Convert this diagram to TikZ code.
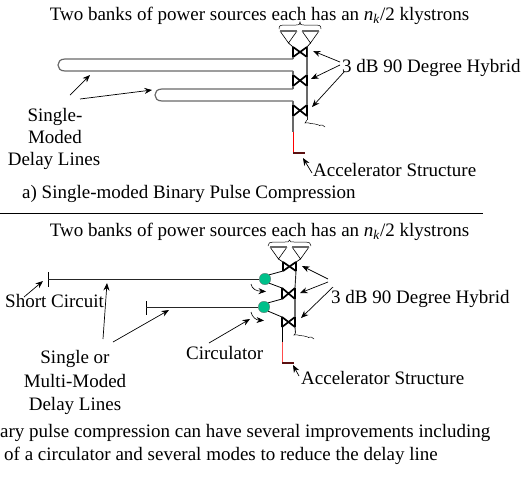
\documentclass[tikz,border=0pt]{standalone}
\usepackage{fontspec}
\setmainfont{Liberation Serif}
\usetikzlibrary{arrows.meta}
\definecolor{circgreen}{HTML}{00C08A}
\definecolor{darkred}{HTML}{5A1010}
\definecolor{wgrey}{HTML}{686868}
\tikzset{
 txt/.style={inner sep=0pt,anchor=base,font=\fontsize{19}{22}\selectfont},
 txtl/.style={txt,anchor=base west},
 lead/.style={draw=black,line width=0.7pt,-{Stealth[length=7.5pt,width=6pt]}},
 wg/.style={draw=wgrey,line width=1.2pt},
 thin wg/.style={draw=black!85,line width=0.9pt},
 hyb/.style={draw=black,line width=1.7pt},
 struct/.style={draw=red,line width=1pt},
 endcap/.style={draw=darkred,line width=1.5pt},
 tri/.style={draw=black,line width=0.6pt},
 tritop/.style={draw=wgrey,line width=1.4pt},
 circ/.style={circle,fill=circgreen,draw=black!60,line width=0.3pt,minimum size=11.5pt,inner sep=0pt},
 brace/.style={draw=black,line width=0.5pt},
 wiggle/.style={draw=black,line width=0.5pt}
}
\newcommand{\hybrid}[5]{% name, xl, xr, ytop, ybot
 \coordinate (#1tl) at (#2,#4);\coordinate (#1tr) at (#3,#4);
 \coordinate (#1bl) at (#2,#5);\coordinate (#1br) at (#3,#5);
 \draw[hyb] (#1tl)--(#1bl) (#1tr)--(#1br) (#1tl)--(#1br) (#1bl)--(#1tr);
}
\newcommand{\klystron}[5]{% name, xl, xr, ytop, yapex
 \coordinate (#1a) at (#2,#4);\coordinate (#1b) at (#3,#4);
 \coordinate (#1c) at ({(#2+#3)/2},#5);
 \draw[tri] (#1a)--(#1c)--(#1b);
 \draw[tritop] (#1a)--(#1b);
}
\begin{document}
\begin{tikzpicture}[x=1pt,y=-1pt]
\useasboundingbox (0,0) rectangle (521,491);
\clip (0,0) rectangle (521,491);
%% ---------- top panel
\node[txt] (head1) at (259.5,20) {Two banks of power sources each has an \textit{n}\textsubscript{\textit{k}}/2 klystrons};
\node[txtl] (hyb1) at (342,72) {3 dB 90 Degree Hybrid};
\node[txtl] (acc1) at (313,176) {Accelerator Structure};
\node[txtl] (cap1) at (22,198) {a) Single-moded Binary Pulse Compression};
\node[txt] (sm1) at (55,121) {Single-};
\node[txt] (sm2) at (55,143) {Moded};
\node[txt] (sm3) at (54,165) {Delay Lines};
\coordinate (ruleL) at (0,213.5);\coordinate (ruleR) at (483,213.5);
\draw[line width=0.7pt] (ruleL)--(ruleR);
% brace
\draw[brace] (279,29) .. controls (279,25) and (281,25) .. (284,25) -- (296,25) .. controls (299,25) and (300,25) .. (300,22) .. controls (300,25) and (301,25) .. (304,25) -- (316,25) .. controls (319,25) and (321,25) .. (321,29);
\klystron{ka}{280}{297}{31}{43}
\klystron{kb}{302}{319}{31}{43}
\hybrid{ha}{293}{307}{47}{57}
\hybrid{hb}{293}{307}{75}{86}
\hybrid{hc}{293}{307}{105}{116}
\draw[line width=0.7pt] (kac)--(hatl) (kbc)--(hatr);
% delay lines
\coordinate (d1a) at (293,59);\coordinate (d1b) at (293,71);
\coordinate (d2a) at (293,89);\coordinate (d2b) at (293,101);
\draw[wg] (d1a) -- (65,59) .. controls (60,59) and (58,62) .. (58,65) .. controls (58,68) and (60,71) .. (65,71) -- (d1b);
\draw[wg] (d2a) -- (162,89) .. controls (157,89) and (155,92) .. (155,95) .. controls (155,98) and (157,101) .. (162,101) -- (d2b);
\draw[wg] (d1a)--(habl) (d1b)--(hbtl) (d2a)--(hbbl) (d2b)--(hctl);
\draw[thin wg] (hatr)--(habr);
\coordinate (r1end) at (307,120);
\draw[wg] (habr)--(hbtr) (hbbr)--(hctr);
\draw[thin wg] (hcbr)--(r1end);
\draw[wiggle] (r1end) -- (305,123) .. controls (310,122) and (312,125) .. (315,124) .. controls (318,123) and (319,127) .. (321,125) .. controls (322,124) and (323,126) .. (325,127);
% output
\coordinate (o1a) at (293,132);\coordinate (o1b) at (293,153);\coordinate (o1c) at (305,153);
\draw[wg] (hcbl)--(o1a);
\draw[struct] (o1a)--(o1b);
\draw[endcap] (o1b)--(o1c);
% leaders
\coordinate (l1) at (340,62);\coordinate (l1t) at (313,51);
\coordinate (l2) at (340,65);\coordinate (l2t) at (311,79);
\coordinate (l3) at (344,72);\coordinate (l3t) at (312,107);
\draw[lead] (l1)--(l1t);\draw[lead] (l2)--(l2t);\draw[lead] (l3)--(l3t);
\coordinate (l4) at (312,173);\coordinate (l4t) at (303,158);
\draw[lead] (l4)--(l4t);
\coordinate (l5) at (70,95);\coordinate (l5t) at (90,75);
\coordinate (l6) at (80,99);\coordinate (l6t) at (152,90);
\draw[lead] (l5)--(l5t);\draw[lead] (l6)--(l6t);
%% ---------- bottom panel
\node[txt] (head2) at (259.5,236) {Two banks of power sources each has an \textit{n}\textsubscript{\textit{k}}/2 klystrons};
\node[txtl] (hyb2) at (331,303) {3 dB 90 Degree Hybrid};
\node[txtl] (acc2) at (301,384) {Accelerator Structure};
\node[txtl] (short) at (5,307) {Short Circuit};
\node[txt] (so1) at (75,363) {Single or};
\node[txt] (so2) at (75,387) {Multi-Moded};
\node[txt] (so3) at (75,410) {Delay Lines};
\node[txtl] (circl) at (186,359) {Circulator};
\node[txtl] (cap2a) at (0,437) {ary pulse compression can have several improvements including};
\node[txtl] (cap2b) at (4,460) {of a circulator and several modes to reduce the delay line};
\draw[brace] (268,246) .. controls (268,243) and (270,242) .. (273,242) -- (285,242) .. controls (288,242) and (289,242) .. (289.5,240) .. controls (290,242) and (291,242) .. (294,242) -- (306,242) .. controls (309,242) and (311,243) .. (311,246);
\klystron{kc}{270}{287}{247}{259}
\klystron{kd}{292}{309}{247}{259}
\hybrid{hd}{283}{296}{262}{271}
\hybrid{he}{282}{295}{288}{299}
\hybrid{hf}{282}{295}{317}{327}
\draw[line width=0.7pt] (kcc)--(hdtl) (kdc)--(hdtr);
\node[circ] (c1) at (265,279) {};
\node[circ] (c2) at (264,307) {};
\draw[line width=0.8pt] (c1.north east)--(hdbl) (c1.south east)--(hetl) (c2.north east)--(hebl) (c2.south east)--(hftl);
\coordinate (s1) at (48,279);\coordinate (s1a) at (48,272);\coordinate (s1b) at (48,287);
\coordinate (s2) at (146,307);\coordinate (s2a) at (146,301);\coordinate (s2b) at (146,315);
\draw[line width=0.8pt] (s1a)--(s1b) (s2a)--(s2b);
\draw[thin wg] (s1)--(c1) (s2)--(c2);
\draw[thin wg] (hdbr)--(hetr);
\coordinate (r2end) at (295.5,333);
\draw[wg] (hebr)--(hftr);
\draw[thin wg] (hfbr)--(r2end);
\draw[wiggle] (r2end) -- (294,335) .. controls (299,334) and (301,337) .. (304,336) .. controls (307,335) and (308,339) .. (310,337) .. controls (311,336) and (312,338) .. (314,339);
\coordinate (o2a) at (282,342);\coordinate (o2b) at (282,363);\coordinate (o2c) at (294,363);
\draw[line width=0.9pt] (hfbl)--(o2a);
\draw[draw=red!70!white,line width=1pt] (o2a)--(o2b);
\draw[endcap] (o2b)--(o2c);
% circulator arrows
\coordinate (ca1) at (251,284);\coordinate (ca1t) at (266,291.5);
\coordinate (ca2) at (251,312);\coordinate (ca2t) at (264,320.5);
\draw[lead,line width=0.6pt] (ca1) .. controls (252,289) and (256,291) .. (ca1t);
\draw[lead,line width=0.6pt] (ca2) .. controls (252,317) and (256,320) .. (ca2t);
% leaders
\coordinate (m1) at (328,279);\coordinate (m1t) at (302,266);
\coordinate (m2) at (328,282);\coordinate (m2t) at (300,293);
\coordinate (m3) at (333,287);\coordinate (m3t) at (301,318);
\draw[lead] (m1)--(m1t);\draw[lead] (m2)--(m2t);\draw[lead] (m3)--(m3t);
\coordinate (m4) at (299,376);\coordinate (m4t) at (293,365);
\draw[lead] (m4)--(m4t);
\coordinate (m5) at (24,297);\coordinate (m5t) at (43,281);
\coordinate (m6) at (103,339);\coordinate (m6t) at (107,283);
\coordinate (m7) at (113,342);\coordinate (m7t) at (169,310);
\coordinate (m8) at (209,343);\coordinate (m8t) at (250,319);
\draw[lead] (m5)--(m5t);\draw[lead] (m6)--(m6t);\draw[lead] (m7)--(m7t);\draw[lead] (m8)--(m8t);
\end{tikzpicture}
\end{document}
